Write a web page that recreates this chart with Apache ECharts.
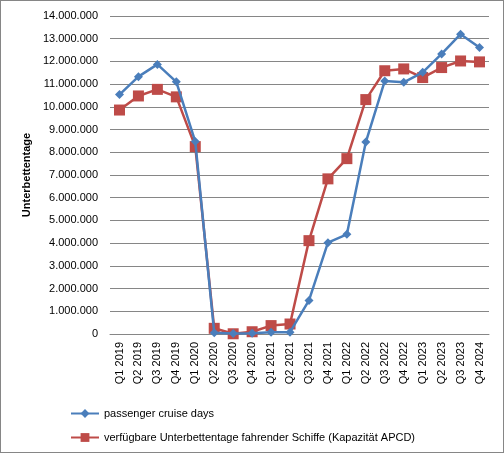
<!DOCTYPE html>
<html>
<head>
<meta charset="utf-8">
<script src="https://cdn.jsdelivr.net/npm/echarts@6/dist/echarts.min.js"></script>
<style>
  html, body { margin: 0; padding: 0; background: #fff; }
  #chart { width: 502px; height: 451px; border: 1px solid #868686; }
</style>
</head>
<body>
<div id="chart"></div>
<script>
const quarters = [
  'Q1 2019', 'Q2 2019', 'Q3 2019', 'Q4 2019',
  'Q1 2020', 'Q2 2020', 'Q3 2020', 'Q4 2020',
  'Q1 2021', 'Q2 2021', 'Q3 2021', 'Q4 2021',
  'Q1 2022', 'Q2 2022', 'Q3 2022', 'Q4 2022',
  'Q1 2023', 'Q2 2023', 'Q3 2023', 'Q4 2024'
]

const cruiseDays = [
  10540000, 11330000, 11870000, 11100000,
  8470000, 50000, 20000, 30000,
  80000, 80000, 1480000, 4020000,
  4390000, 8450000, 11140000, 11080000,
  11520000, 12330000, 13200000, 12610000
]

const capacity = [
  9860000, 10480000, 10770000, 10440000,
  8250000, 250000, 10000, 100000,
  370000, 440000, 4110000, 6830000,
  7720000, 10320000, 11590000, 11670000,
  11290000, 11730000, 12020000, 11980000
]

const seriesNames = [
  'passenger cruise days',
  'verfügbare Unterbettentage fahrender Schiffe (Kapazität APCD)'
]

function formatDe (v) {
  return String(v).replace(/\B(?=(\d{3})+(?!\d))/g, '.')
}

const chart = echarts.init(document.getElementById('chart'))
const font = 'Liberation Sans, Arial, sans-serif'

const option = {
  animation: false,
  textStyle: { fontFamily: font },
  grid: { left: 109, right: 14, top: 15, bottom: 118 },
  legend: {
    orient: 'vertical',
    left: 64,
    top: 402,
    itemGap: 13,
    itemWidth: 28,
    itemHeight: 11,
    textStyle: { fontSize: 11, color: '#000', fontFamily: font },
    data: seriesNames
  },
  xAxis: {
    type: 'category',
    data: quarters,
    boundaryGap: true,
    axisLine: { lineStyle: { color: '#868686', width: 1 } },
    axisTick: { show: false },
    axisLabel: {
      rotate: 90,
      interval: 0,
      color: '#000',
      fontSize: 11,
      margin: 8,
      fontFamily: font
    }
  },
  yAxis: {
    type: 'value',
    min: 0,
    max: 14000000,
    interval: 1000000,
    name: 'Unterbettentage',
    nameLocation: 'middle',
    nameGap: 76,
    nameTextStyle: { fontWeight: 'bold', fontSize: 11, color: '#000', fontFamily: font },
    axisLine: { show: false },
    axisTick: { show: false },
    axisLabel: {
      color: '#000',
      fontSize: 11,
      margin: 12,
      fontFamily: font,
      formatter: formatDe
    },
    splitLine: { lineStyle: { color: '#868686', width: 1 } }
  },
  series: [
    {
      name: seriesNames[0],
      type: 'line',
      data: cruiseDays,
      symbol: 'diamond',
      symbolSize: 9,
      lineStyle: { color: '#4A7EBB', width: 2.5 },
      itemStyle: { color: '#4A7EBB' },
      z: 3
    },
    {
      name: seriesNames[1],
      type: 'line',
      data: capacity,
      symbol: 'rect',
      symbolSize: 11,
      lineStyle: { color: '#BE4B48', width: 2.5 },
      itemStyle: { color: '#BE4B48' },
      z: 2
    }
  ]
}

chart.setOption(option)
</script>
</body>
</html>
